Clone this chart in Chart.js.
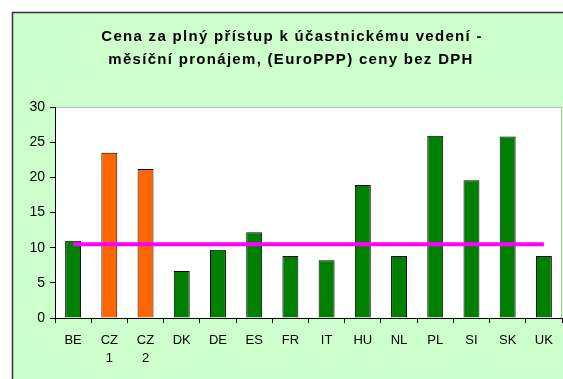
<!DOCTYPE html>
<html>
<head>
<meta charset="utf-8">
<script src="https://cdn.jsdelivr.net/npm/chart.js@4/dist/chart.umd.min.js"></script>
<style>
  html, body { margin: 0; padding: 0; background: #ffffff; }
  #wrap { width: 563px; height: 379px; position: relative; }
</style>
</head>
<body>
<div id="wrap"><canvas id="c" width="563" height="379"></canvas></div>
<script>
// Country codes (CZ split into two offers)
const categories = ['BE', ['CZ', '1'], ['CZ', '2'], 'DK', 'DE', 'ES', 'FR', 'IT', 'HU', 'NL', 'PL', 'SI', 'SK', 'UK'];
// Monthly rental, EuroPPP, excl. VAT
const prices = [11.0, 23.5, 21.2, 6.7, 9.7, 12.2, 8.8, 8.2, 18.9, 8.8, 25.9, 19.6, 25.8, 8.8];
// Average level line
const averageLine = [10.5, 10.5, 10.5, 10.5, 10.5, 10.5, 10.5, 10.5, 10.5, 10.5, 10.5, 10.5, 10.5, 10.5];
const yTicks = [0, 5, 10, 15, 20, 25, 30];
const titleLines = ['Cena za plný přístup k účastnickému vedení -', 'měsíční pronájem, (EuroPPP) ceny bez DPH'];

const barColors = prices.map((v, i) => (i === 1 || i === 2) ? '#FF6600' : '#008000');
const FONT = 'Liberation Sans, Arial, sans-serif';

// Green panel with a dark frame, white plot area with a grey frame
const framePlugin = {
  id: 'frame',
  beforeDraw(chart) {
    const ctx = chart.ctx;
    ctx.save();
    ctx.fillStyle = '#ffffff';
    ctx.fillRect(0, 0, chart.width, chart.height);
    ctx.fillStyle = '#CCFFCC';
    ctx.fillRect(12, 12, chart.width, chart.height);
    ctx.strokeStyle = '#333333';
    ctx.lineWidth = 1.5;
    ctx.strokeRect(12.5, 12.5, chart.width + 10, chart.height + 10);
    const a = chart.chartArea;
    ctx.fillStyle = '#ffffff';
    ctx.fillRect(a.left, a.top, a.right - a.left, a.bottom - a.top);
    ctx.strokeStyle = '#BBBBBB';
    ctx.lineWidth = 1;
    ctx.strokeRect(a.left + 0.5, a.top + 0.5, a.right - a.left - 1, a.bottom - a.top);
    ctx.restore();
  }
};

// Two-line bold heading, slightly letter-spaced
const headingPlugin = {
  id: 'heading',
  afterDraw(chart) {
    const ctx = chart.ctx;
    ctx.save();
    ctx.fillStyle = '#000000';
    ctx.font = 'bold 15px ' + FONT;
    ctx.letterSpacing = '1.3px';
    ctx.textAlign = 'center';
    ctx.textBaseline = 'alphabetic';
    ctx.fillText(titleLines[0], 292, 41);
    ctx.fillText(titleLines[1], 291, 64);
    ctx.restore();
  }
};

new Chart(document.getElementById('c'), {
  data: {
    labels: categories,
    datasets: [
      {
        type: 'line',
        data: averageLine,
        borderColor: '#FF00FF',
        borderWidth: 4,
        pointRadius: 0,
        fill: false,
        order: 0
      },
      {
        type: 'bar',
        data: prices,
        backgroundColor: barColors,
        borderColor: '#000000',
        borderWidth: 1,
        borderSkipped: 'bottom',
        categoryPercentage: 1,
        barPercentage: 0.44,
        order: 1
      }
    ]
  },
  options: {
    responsive: false,
    animation: false,
    layout: { padding: { top: 107, right: 1, left: 0, bottom: 0 } },
    plugins: {
      legend: { display: false },
      tooltip: { enabled: false },
      title: { display: false }
    },
    scales: {
      x: {
        offset: true,
        grid: { display: true, offset: true, drawOnChartArea: false, color: '#000000', tickLength: 5 },
        border: { display: true, color: '#000000', width: 1 },
        ticks: { color: '#000000', font: { family: FONT, size: 13, lineHeight: 1.4 }, padding: 8, maxRotation: 0, autoSkip: false },
        afterFit(scale) { scale.height = 61; }
      },
      y: {
        min: 0,
        max: 30,
        afterBuildTicks(scale) { scale.ticks = yTicks.map(v => ({ value: v })); },
        grid: { display: true, drawOnChartArea: false, color: '#000000', tickLength: 5 },
        border: { display: true, color: '#000000', width: 1 },
        ticks: { color: '#000000', font: { family: FONT, size: 14 }, padding: 5 },
        afterFit(scale) { scale.width = 55; }
      }
    }
  },
  plugins: [framePlugin, headingPlugin]
});
</script>
</body>
</html>
